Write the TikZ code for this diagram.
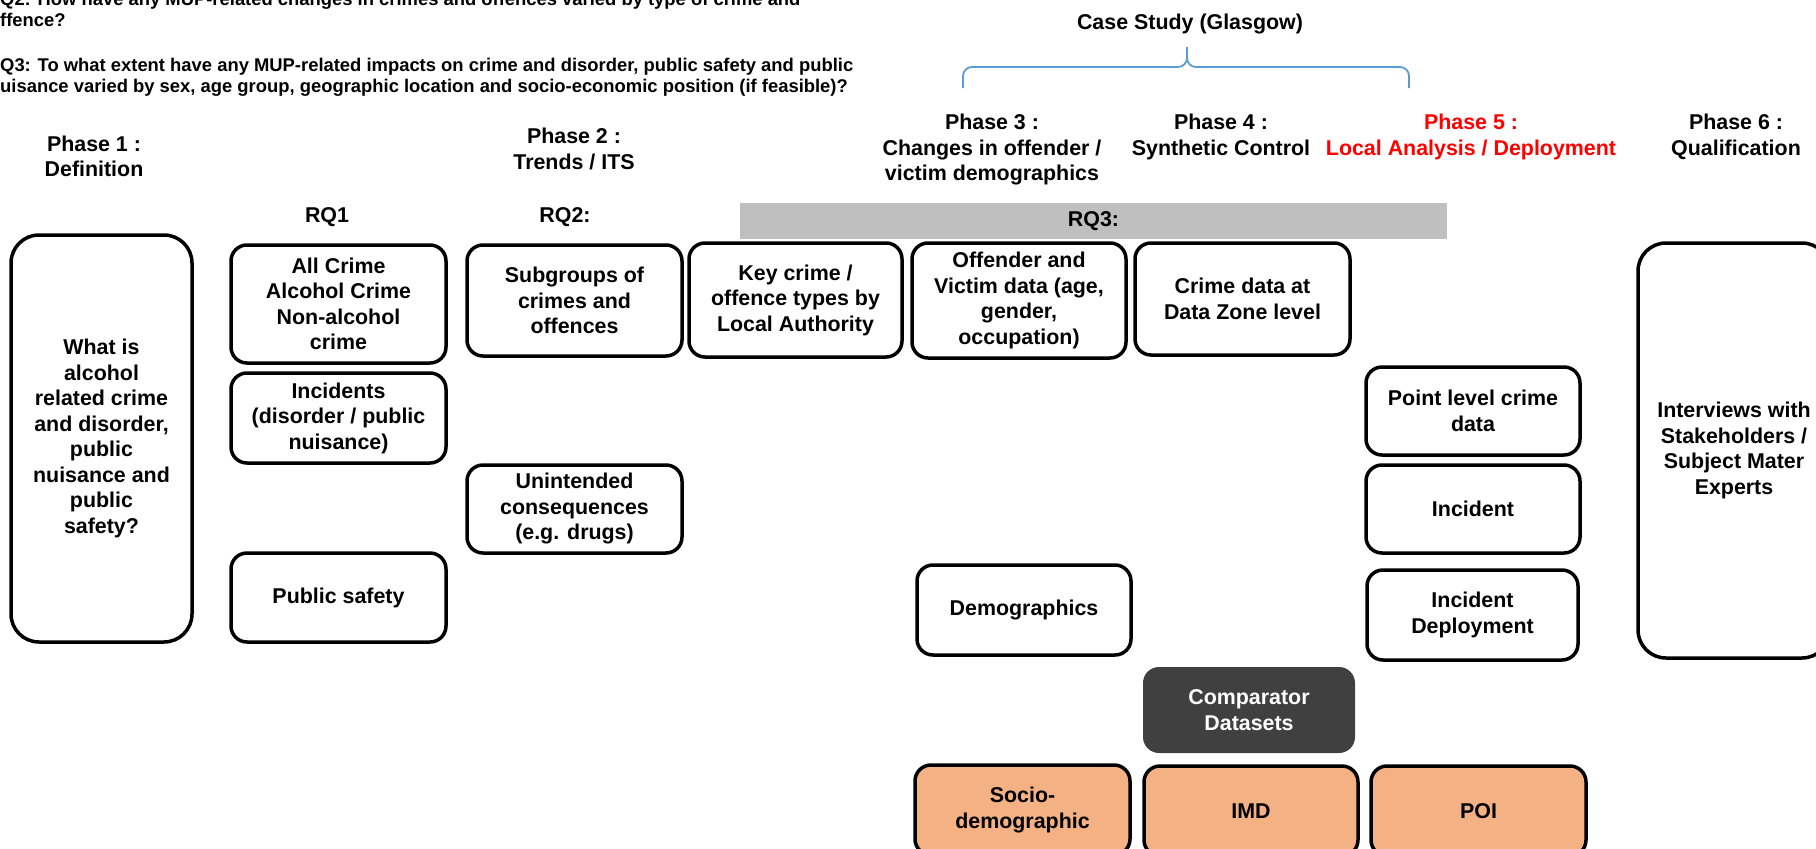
\documentclass[tikz,border=0pt]{standalone}
\usepackage{fontspec}
\setmainfont{Liberation Sans}
\definecolor{peach}{HTML}{F4B183}
\definecolor{barGrey}{HTML}{BFBFBF}
\definecolor{darkBox}{HTML}{404040}
\definecolor{braceBlue}{HTML}{5B9BD5}
\definecolor{phaseRed}{HTML}{FF0000}
\begin{document}
\begin{tikzpicture}[x=1pt,y=-1pt,
  lbl/.style={font=\bfseries\fontsize{21.4}{25.5}\selectfont, align=center, inner sep=0pt},
  wh/.style 2 args={minimum width=#1pt, minimum height=#2pt},
  box/.style={lbl, draw=black, line width=3.5pt, rounded corners=16pt, fill=white},
  bigbox/.style={box, rounded corners=28pt},
  databox/.style={box, fill=peach},
  darkbox/.style={lbl, fill=darkBox, text=white, rounded corners=16pt},
  question/.style={font=\bfseries\fontsize{18.4}{21}\selectfont, anchor=base west, inner sep=0pt},
  bracepath/.style={draw=braceBlue, line width=1.8pt},
]
\useasboundingbox (0,0) rectangle (1816,849);
\fill[white] (0,0) rectangle (1816,849);

% research questions (cut off by the page edge)
\node[question] (q2a) at (0,5) {Q2: How have any MUP-related changes in crimes and offences varied by type of crime and};
\node[question] (q2b) at (0,26) {ffence?};
\node[question] (q3a) at (0,71) {Q3: To what extent have any MUP-related impacts on crime and disorder, public safety and public};
\node[question] (q3b) at (0,92) {uisance varied by sex, age group, geographic location and socio-economic position (if feasible)?};

% case study brace
\node[lbl] (case) at (1190,24) {Case Study (Glasgow)};
\coordinate (brL) at (963,88);
\coordinate (brM) at (1187,47);
\coordinate (brR) at (1409,88);
\draw[bracepath] (brL) -- (963,76) to[out=90,in=180] (972,67) -- (1178,67) to[out=0,in=-90] (1187,58) -- (brM);
\draw[bracepath] (1187,58) to[out=-90,in=180] (1196,67) -- (1400,67) to[out=0,in=90] (1409,76) -- (brR);

% phase headers
\node[lbl] (ph1) at (94,156.5) {Phase 1 :\\Definition};
\node[lbl] (ph2) at (574,149) {Phase 2 :\\Trends / ITS};
\node[lbl] (ph3) at (992,150) {Phase 3 :\\Changes in offender /\\victim demographics};
\node[lbl] (ph4) at (1221,137) {Phase 4 :\\Synthetic Control};
\node[lbl, text=phaseRed] (ph5) at (1471,137) {Phase 5 :\\Local Analysis / Deployment};
\node[lbl] (ph6) at (1736,137) {Phase 6 :\\Qualification};

\node[lbl] (rq1) at (327,217) {RQ1};
\node[lbl] (rq2) at (565,217) {RQ2:};
\node[lbl, fill=barGrey, wh={707}{36}] (rq3) at (1093.5,221) {RQ3:};

% boxes
\node[bigbox, wh={181}{407}] (def) at (101.5,438.5) {What is\\alcohol\\related crime\\and disorder,\\public\\nuisance and\\public\\safety?};
\node[box, wh={215}{118}] (allcrime) at (338.5,304) {All Crime\\Alcohol Crime\\Non-alcohol\\crime};
\node[box, wh={215}{90}] (incidents) at (338.5,418) {Incidents\\(disorder / public\\nuisance)};
\node[box, wh={215}{89}] (pubsafety) at (338.5,597.5) {Public safety};
\node[box, wh={215}{111}] (subgroups) at (574.5,300.5) {Subgroups of\\crimes and\\offences};
\node[box, wh={215}{88}] (unintended) at (574.5,509) {Unintended\\consequences\\(e.g. drugs)};
\node[box, wh={213}{114}] (keycrime) at (795.5,300) {Key crime /\\offence types by\\Local Authority};
\node[box, wh={214}{115}] (offender) at (1019,300.5) {Offender and\\Victim data (age,\\gender,\\occupation)};
\node[box, wh={215}{112}] (crimedz) at (1242.5,299) {Crime data at\\Data Zone level};
\node[box, wh={214}{88}] (pointlevel) at (1473,411) {Point level crime\\data};
\node[box, wh={214}{88}] (incident) at (1473,509) {Incident};
\node[box, wh={211}{90}] (incdeploy) at (1472.5,615) {Incident\\Deployment};
\node[bigbox, wh={192}{415}] (interviews) at (1734,450.5) {Interviews with\\Stakeholders /\\Subject Mater\\Experts};
\node[box, wh={214}{90}] (demog) at (1024,610) {Demographics};
\node[darkbox, wh={212}{86}] (comparator) at (1249,710) {Comparator\\Datasets};
\node[databox, wh={215}{90}] (socio) at (1022.5,810) {Socio-\\demographic};
\node[databox, wh={214}{90}] (imd) at (1251,811) {IMD};
\node[databox, wh={215}{90}] (poi) at (1478.5,811) {POI};
\end{tikzpicture}
\end{document}
